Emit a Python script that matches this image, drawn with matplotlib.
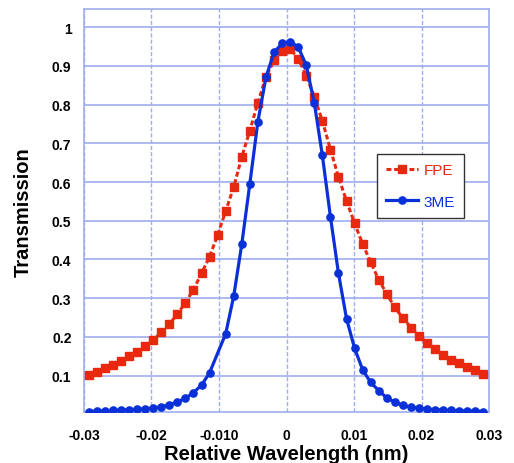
import numpy as np
import matplotlib
matplotlib.use("Agg")
import matplotlib.pyplot as plt

# --------------------------------------
# DATA
# --------------------------------------

wavelength = [-0.02930, -0.02811, -0.02691, -0.02572, -0.02453, -0.02333, -0.02214,
              -0.02095, -0.01975, -0.01856, -0.01737, -0.01617, -0.01498, -0.01378,
              -0.01259, -0.01140, -0.01020, -0.00901, -0.00782, -0.00662, -0.00543,
              -0.00424, -0.00304, -0.00185, -0.00066, 0.00054, 0.00173, 0.00292,
              0.00412, 0.00531, 0.00651, 0.00770, 0.00889, 0.01009, 0.01128,
              0.01247, 0.01367, 0.01486, 0.01605, 0.01725, 0.01844, 0.01963,
              0.02083, 0.02202, 0.02321, 0.02441, 0.02560, 0.02679, 0.02799, 0.02918]

fpe = [0.102, 0.110, 0.119, 0.128, 0.137, 0.150, 0.160, 0.177, 0.191, 0.212,
       0.232, 0.259, 0.288, 0.322, 0.364, 0.407, 0.463, 0.525, 0.587, 0.665,
       0.733, 0.805, 0.872, 0.914, 0.938, 0.944, 0.919, 0.875, 0.820, 0.758,
       0.684, 0.613, 0.551, 0.493, 0.440, 0.393, 0.347, 0.311, 0.276, 0.248,
       0.224, 0.203, 0.184, 0.169, 0.153, 0.141, 0.132, 0.122, 0.113, 0.104]

# 3ME has no point at the 17th wavelength
three_me = [0.007, 0.008, 0.009, 0.010, 0.011, 0.012, 0.013, 0.014, 0.016, 0.019,
            0.024, 0.032, 0.041, 0.056, 0.075, 0.107, None, 0.208, 0.305, 0.440,
            0.596, 0.756, 0.871, 0.935, 0.958, 0.963, 0.949, 0.902, 0.804, 0.669,
            0.510, 0.364, 0.247, 0.170, 0.115, 0.082, 0.061, 0.042, 0.031, 0.023,
            0.018, 0.016, 0.013, 0.012, 0.011, 0.010, 0.009, 0.0085, 0.008, 0.007]

x_ticks = [-0.03, -0.02, -0.01, 0, 0.01, 0.02, 0.03]
x_tick_labels = ["-0.03", "-0.02", "-0.010", "0", "0.01", "0.02", "0.03"]
y_ticks = [0.1, 0.2, 0.3, 0.4, 0.5, 0.6, 0.7, 0.8, 0.9, 1.0]
y_tick_labels = ["0.1", "0.2", "0.3", "0.4", "0.5", "0.6", "0.7", "0.8", "0.9", "1"]

me_x = [w for w, v in zip(wavelength, three_me) if v is not None]
me_y = [v for v in three_me if v is not None]

# --------------------------------------
# PLOT
# --------------------------------------

plt.rcParams["font.family"] = ["Liberation Sans", "DejaVu Sans"]

red = "#e8290f"
blue = "#0a30d8"
grid_col = "#9fadee"

fig = plt.figure(figsize=(5.14, 4.64), dpi=100)
ax = fig.add_axes([0.1634, 0.1093, 0.788, 0.8691])

ax.plot(wavelength, fpe, color=red, lw=2.2, ls=(0, (1.6, 0.9)), marker="s",
        ms=5.2, mec=red, mfc=red, label="FPE", zorder=3)
ax.plot(me_x, me_y, color=blue, lw=2.3, marker="o", ms=5.2,
        mec=blue, mfc=blue, label="3ME", zorder=4)

ax.set_xlim(-0.03, 0.03)
ax.set_ylim(0.005, 1.047)
ax.set_xticks(x_ticks)
ax.set_xticklabels(x_tick_labels)
ax.set_yticks(y_ticks)
ax.set_yticklabels(y_tick_labels)
ax.tick_params(length=0, labelsize=10, pad=9)
ax.tick_params(axis="x", pad=11)
for lab in ax.get_xticklabels() + ax.get_yticklabels():
    lab.set_fontweight("bold")

ax.yaxis.grid(True, color=grid_col, lw=1.2, ls="-")
ax.xaxis.grid(True, color=grid_col, lw=1.0, ls=(0, (3, 1.5)))
ax.set_axisbelow(True)
for s in ax.spines.values():
    s.set_color(grid_col)
    s.set_linewidth(1.2)

ax.set_xlabel("Relative Wavelength (nm)", fontsize=14.5, fontweight="bold", labelpad=2)
ax.set_ylabel("Transmission", fontsize=14.5, fontweight="bold", labelpad=14)

leg = ax.legend(loc="upper left", bbox_to_anchor=(0.7235, 0.6405), borderaxespad=0,
                fontsize=11, fancybox=False, framealpha=1, edgecolor="#333333",
                handlelength=2.1, labelspacing=1.15, handletextpad=0.35,
                borderpad=0.6, markerscale=1.0)
leg.get_frame().set_linewidth(1.0)
for txt, col in zip(leg.get_texts(), [red, blue]):
    txt.set_color(col)

fig.savefig("out.png", dpi=100)
